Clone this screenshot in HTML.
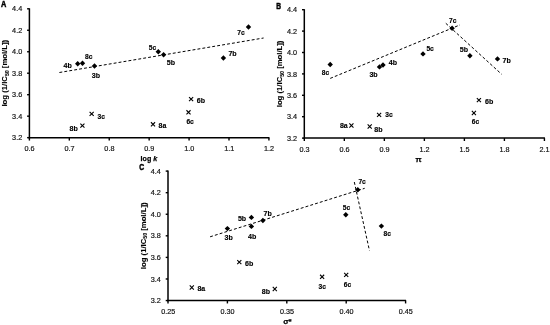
<!DOCTYPE html>
<html lang="en"><head><meta charset="utf-8"><title>Figure</title>
<style>
html,body{margin:0;padding:0;background:#fff;}
body{width:550px;height:325px;overflow:hidden;font-family:"Liberation Sans", sans-serif;}
svg{display:block;}
</style></head><body>
<svg width="550" height="325" viewBox="0 0 550 325">
<rect width="550" height="325" fill="#fff"/>
<g stroke="#000" stroke-width="1.5" fill="none" stroke-linecap="butt">
<path d="M29.40 8.30V138.40"/>
<path d="M28.65 137.65H269.42"/>
</g>
<g stroke="#000" stroke-width="1.4" fill="none">
<path d="M27.10 8.80H29.40"/>
<path d="M27.10 30.27H29.40"/>
<path d="M27.10 51.75H29.40"/>
<path d="M27.10 73.22H29.40"/>
<path d="M27.10 94.70H29.40"/>
<path d="M27.10 116.17H29.40"/>
<path d="M27.10 137.65H29.40"/>
<path d="M29.40 137.65V140.55"/>
<path d="M69.32 137.65V140.55"/>
<path d="M109.24 137.65V140.55"/>
<path d="M149.16 137.65V140.55"/>
<path d="M189.08 137.65V140.55"/>
<path d="M229.00 137.65V140.55"/>
<path d="M268.92 137.65V140.55"/>
</g>
<g font-family='"Liberation Sans", sans-serif' font-size="7.1" fill="#111" stroke="#111" stroke-width="0.18">
<text x="22.20" y="11.40" text-anchor="end" textLength="10.1" lengthAdjust="spacingAndGlyphs">4.4</text>
<text x="22.20" y="32.88" text-anchor="end" textLength="10.1" lengthAdjust="spacingAndGlyphs">4.2</text>
<text x="22.20" y="54.35" text-anchor="end" textLength="10.1" lengthAdjust="spacingAndGlyphs">4.0</text>
<text x="22.20" y="75.82" text-anchor="end" textLength="10.1" lengthAdjust="spacingAndGlyphs">3.8</text>
<text x="22.20" y="97.30" text-anchor="end" textLength="10.1" lengthAdjust="spacingAndGlyphs">3.6</text>
<text x="22.20" y="118.77" text-anchor="end" textLength="10.1" lengthAdjust="spacingAndGlyphs">3.4</text>
<text x="22.20" y="140.25" text-anchor="end" textLength="10.1" lengthAdjust="spacingAndGlyphs">3.2</text>
<text x="29.60" y="151.25" text-anchor="middle" textLength="10.1" lengthAdjust="spacingAndGlyphs">0.6</text>
<text x="69.52" y="151.25" text-anchor="middle" textLength="10.1" lengthAdjust="spacingAndGlyphs">0.7</text>
<text x="109.44" y="151.25" text-anchor="middle" textLength="10.1" lengthAdjust="spacingAndGlyphs">0.8</text>
<text x="149.36" y="151.25" text-anchor="middle" textLength="10.1" lengthAdjust="spacingAndGlyphs">0.9</text>
<text x="189.28" y="151.25" text-anchor="middle" textLength="10.1" lengthAdjust="spacingAndGlyphs">1.0</text>
<text x="229.20" y="151.25" text-anchor="middle" textLength="10.1" lengthAdjust="spacingAndGlyphs">1.1</text>
<text x="269.12" y="151.25" text-anchor="middle" textLength="10.1" lengthAdjust="spacingAndGlyphs">1.2</text>
</g>
<g font-family='"Liberation Sans", sans-serif' font-weight="bold" fill="#000">
<text x="1.10" y="7.30" font-size="8.8" stroke="#000" stroke-width="0.5" textLength="5.3" lengthAdjust="spacingAndGlyphs">A</text>
<text x="148.90" y="160.90" font-size="7.9" stroke="#000" stroke-width="0.25" text-anchor="middle" textLength="16.6" lengthAdjust="spacingAndGlyphs">log <tspan font-style="italic">k</tspan></text>
<text transform="translate(7.20 73.23) rotate(-90)" font-size="8.0" stroke="#000" stroke-width="0.1" text-anchor="middle" textLength="66.7" lengthAdjust="spacingAndGlyphs">log (1/IC<tspan font-size="5.4" dy="1.4">50</tspan><tspan dy="-1.4"> [mol/L])</tspan></text>
<text x="85.00" y="58.70" font-size="7.3" stroke="#000" stroke-width="0.15" textLength="7.40" lengthAdjust="spacingAndGlyphs">8c</text>
<text x="63.60" y="68.00" font-size="7.3" stroke="#000" stroke-width="0.15" textLength="8.30" lengthAdjust="spacingAndGlyphs">4b</text>
<text x="91.70" y="77.60" font-size="7.3" stroke="#000" stroke-width="0.15" textLength="8.30" lengthAdjust="spacingAndGlyphs">3b</text>
<text x="148.80" y="49.60" font-size="7.3" stroke="#000" stroke-width="0.15" textLength="7.40" lengthAdjust="spacingAndGlyphs">5c</text>
<text x="166.70" y="64.60" font-size="7.3" stroke="#000" stroke-width="0.15" textLength="8.30" lengthAdjust="spacingAndGlyphs">5b</text>
<text x="228.40" y="55.90" font-size="7.3" stroke="#000" stroke-width="0.15" textLength="8.30" lengthAdjust="spacingAndGlyphs">7b</text>
<text x="237.20" y="35.30" font-size="7.3" stroke="#000" stroke-width="0.15" textLength="7.40" lengthAdjust="spacingAndGlyphs">7c</text>
<text x="97.50" y="119.00" font-size="7.3" stroke="#000" stroke-width="0.15" textLength="7.40" lengthAdjust="spacingAndGlyphs">3c</text>
<text x="69.50" y="130.90" font-size="7.3" stroke="#000" stroke-width="0.15" textLength="8.30" lengthAdjust="spacingAndGlyphs">8b</text>
<text x="158.60" y="127.60" font-size="7.3" stroke="#000" stroke-width="0.15" textLength="7.80" lengthAdjust="spacingAndGlyphs">8a</text>
<text x="196.70" y="102.60" font-size="7.3" stroke="#000" stroke-width="0.15" textLength="8.30" lengthAdjust="spacingAndGlyphs">6b</text>
<text x="186.40" y="123.70" font-size="7.3" stroke="#000" stroke-width="0.15" textLength="7.40" lengthAdjust="spacingAndGlyphs">6c</text>
</g>
<g stroke="#000" stroke-width="1" fill="none" stroke-dasharray="2.9 2.1">
<path d="M59.40 72.50L263.60 38.00"/>
</g>
<g fill="#000">
<path d="M77.70 61.00L80.40 63.70L77.70 66.40L75.00 63.70Z"/>
<path d="M82.50 60.60L85.20 63.30L82.50 66.00L79.80 63.30Z"/>
<path d="M94.50 63.30L97.20 66.00L94.50 68.70L91.80 66.00Z"/>
<path d="M158.30 49.10L161.00 51.80L158.30 54.50L155.60 51.80Z"/>
<path d="M163.60 52.10L166.30 54.80L163.60 57.50L160.90 54.80Z"/>
<path d="M223.40 55.25L226.10 57.95L223.40 60.65L220.70 57.95Z"/>
<path d="M248.50 24.30L251.20 27.00L248.50 29.70L245.80 27.00Z"/>
</g>
<g stroke="#000" stroke-width="1.1" fill="none">
<path d="M89.60 111.85L93.70 115.95M89.60 115.95L93.70 111.85"/>
<path d="M80.35 123.55L84.45 127.65M80.35 127.65L84.45 123.55"/>
<path d="M150.95 122.25L155.05 126.35M150.95 126.35L155.05 122.25"/>
<path d="M189.05 97.05L193.15 101.15M189.05 101.15L193.15 97.05"/>
<path d="M186.45 110.25L190.55 114.35M186.45 114.35L190.55 110.25"/>
</g>
<g stroke="#000" stroke-width="1.5" fill="none" stroke-linecap="butt">
<path d="M304.30 9.20V138.85"/>
<path d="M303.55 138.10H544.92"/>
</g>
<g stroke="#000" stroke-width="1.4" fill="none">
<path d="M302.00 9.70H304.30"/>
<path d="M302.00 31.10H304.30"/>
<path d="M302.00 52.50H304.30"/>
<path d="M302.00 73.90H304.30"/>
<path d="M302.00 95.30H304.30"/>
<path d="M302.00 116.70H304.30"/>
<path d="M302.00 138.10H304.30"/>
<path d="M304.30 138.10V141.00"/>
<path d="M344.32 138.10V141.00"/>
<path d="M384.34 138.10V141.00"/>
<path d="M424.36 138.10V141.00"/>
<path d="M464.38 138.10V141.00"/>
<path d="M504.40 138.10V141.00"/>
<path d="M544.42 138.10V141.00"/>
</g>
<g font-family='"Liberation Sans", sans-serif' font-size="7.1" fill="#111" stroke="#111" stroke-width="0.18">
<text x="297.10" y="12.30" text-anchor="end" textLength="10.1" lengthAdjust="spacingAndGlyphs">4.4</text>
<text x="297.10" y="33.70" text-anchor="end" textLength="10.1" lengthAdjust="spacingAndGlyphs">4.2</text>
<text x="297.10" y="55.10" text-anchor="end" textLength="10.1" lengthAdjust="spacingAndGlyphs">4.0</text>
<text x="297.10" y="76.50" text-anchor="end" textLength="10.1" lengthAdjust="spacingAndGlyphs">3.8</text>
<text x="297.10" y="97.90" text-anchor="end" textLength="10.1" lengthAdjust="spacingAndGlyphs">3.6</text>
<text x="297.10" y="119.30" text-anchor="end" textLength="10.1" lengthAdjust="spacingAndGlyphs">3.4</text>
<text x="297.10" y="140.70" text-anchor="end" textLength="10.1" lengthAdjust="spacingAndGlyphs">3.2</text>
<text x="304.50" y="151.70" text-anchor="middle" textLength="10.1" lengthAdjust="spacingAndGlyphs">0.3</text>
<text x="344.52" y="151.70" text-anchor="middle" textLength="10.1" lengthAdjust="spacingAndGlyphs">0.6</text>
<text x="384.54" y="151.70" text-anchor="middle" textLength="10.1" lengthAdjust="spacingAndGlyphs">0.9</text>
<text x="424.56" y="151.70" text-anchor="middle" textLength="10.1" lengthAdjust="spacingAndGlyphs">1.2</text>
<text x="464.58" y="151.70" text-anchor="middle" textLength="10.1" lengthAdjust="spacingAndGlyphs">1.5</text>
<text x="504.60" y="151.70" text-anchor="middle" textLength="10.1" lengthAdjust="spacingAndGlyphs">1.8</text>
<text x="544.62" y="151.70" text-anchor="middle" textLength="10.1" lengthAdjust="spacingAndGlyphs">2.1</text>
</g>
<g font-family='"Liberation Sans", sans-serif' font-weight="bold" fill="#000">
<text x="276.30" y="8.80" font-size="8.8" stroke="#000" stroke-width="0.5" textLength="4.8" lengthAdjust="spacingAndGlyphs">B</text>
<text x="418.40" y="161.90" font-size="7.9" stroke="#000" stroke-width="0.25" text-anchor="middle" >π</text>
<text transform="translate(282.20 73.90) rotate(-90)" font-size="8.0" stroke="#000" stroke-width="0.1" text-anchor="middle" textLength="66.7" lengthAdjust="spacingAndGlyphs">log (1/IC<tspan font-size="5.4" dy="1.4">50</tspan><tspan dy="-1.4"> [mol/L])</tspan></text>
<text x="321.70" y="74.60" font-size="7.3" stroke="#000" stroke-width="0.15" textLength="7.40" lengthAdjust="spacingAndGlyphs">8c</text>
<text x="369.40" y="76.80" font-size="7.3" stroke="#000" stroke-width="0.15" textLength="8.30" lengthAdjust="spacingAndGlyphs">3b</text>
<text x="388.70" y="65.30" font-size="7.3" stroke="#000" stroke-width="0.15" textLength="8.30" lengthAdjust="spacingAndGlyphs">4b</text>
<text x="426.40" y="51.20" font-size="7.3" stroke="#000" stroke-width="0.15" textLength="7.40" lengthAdjust="spacingAndGlyphs">5c</text>
<text x="449.00" y="22.70" font-size="7.3" stroke="#000" stroke-width="0.15" textLength="7.40" lengthAdjust="spacingAndGlyphs">7c</text>
<text x="459.80" y="52.00" font-size="7.3" stroke="#000" stroke-width="0.15" textLength="8.30" lengthAdjust="spacingAndGlyphs">5b</text>
<text x="502.60" y="63.00" font-size="7.3" stroke="#000" stroke-width="0.15" textLength="8.30" lengthAdjust="spacingAndGlyphs">7b</text>
<text x="385.20" y="117.30" font-size="7.3" stroke="#000" stroke-width="0.15" textLength="7.40" lengthAdjust="spacingAndGlyphs">3c</text>
<text x="339.90" y="127.60" font-size="7.3" stroke="#000" stroke-width="0.15" textLength="7.80" lengthAdjust="spacingAndGlyphs">8a</text>
<text x="374.20" y="131.50" font-size="7.3" stroke="#000" stroke-width="0.15" textLength="8.30" lengthAdjust="spacingAndGlyphs">8b</text>
<text x="485.00" y="103.50" font-size="7.3" stroke="#000" stroke-width="0.15" textLength="8.30" lengthAdjust="spacingAndGlyphs">6b</text>
<text x="471.70" y="124.20" font-size="7.3" stroke="#000" stroke-width="0.15" textLength="7.40" lengthAdjust="spacingAndGlyphs">6c</text>
</g>
<g stroke="#000" stroke-width="1" fill="none" stroke-dasharray="2.9 2.1">
<path d="M330.20 78.40L460.00 24.90"/>
<path d="M445.80 23.30L501.70 74.30"/>
</g>
<g fill="#000">
<path d="M330.20 61.80L332.90 64.50L330.20 67.20L327.50 64.50Z"/>
<path d="M379.50 64.20L382.20 66.90L379.50 69.60L376.80 66.90Z"/>
<path d="M383.00 62.30L385.70 65.00L383.00 67.70L380.30 65.00Z"/>
<path d="M423.00 51.20L425.70 53.90L423.00 56.60L420.30 53.90Z"/>
<path d="M452.10 25.60L454.80 28.30L452.10 31.00L449.40 28.30Z"/>
<path d="M469.90 53.10L472.60 55.80L469.90 58.50L467.20 55.80Z"/>
<path d="M497.50 56.20L500.20 58.90L497.50 61.60L494.80 58.90Z"/>
</g>
<g stroke="#000" stroke-width="1.1" fill="none">
<path d="M377.05 112.85L381.15 116.95M377.05 116.95L381.15 112.85"/>
<path d="M349.35 123.45L353.45 127.55M349.35 127.55L353.45 123.45"/>
<path d="M367.65 124.45L371.75 128.55M367.65 128.55L371.75 124.45"/>
<path d="M476.85 98.05L480.95 102.15M476.85 102.15L480.95 98.05"/>
<path d="M471.85 110.95L475.95 115.05M471.85 115.05L475.95 110.95"/>
</g>
<g stroke="#000" stroke-width="1.5" fill="none" stroke-linecap="butt">
<path d="M168.00 170.60V301.30"/>
<path d="M167.25 300.55H406.10"/>
</g>
<g stroke="#000" stroke-width="1.4" fill="none">
<path d="M165.70 171.10H168.00"/>
<path d="M165.70 192.68H168.00"/>
<path d="M165.70 214.25H168.00"/>
<path d="M165.70 235.82H168.00"/>
<path d="M165.70 257.40H168.00"/>
<path d="M165.70 278.98H168.00"/>
<path d="M165.70 300.55H168.00"/>
<path d="M168.00 300.55V303.45"/>
<path d="M227.40 300.55V303.45"/>
<path d="M286.80 300.55V303.45"/>
<path d="M346.20 300.55V303.45"/>
<path d="M405.60 300.55V303.45"/>
</g>
<g font-family='"Liberation Sans", sans-serif' font-size="7.1" fill="#111" stroke="#111" stroke-width="0.18">
<text x="160.80" y="173.70" text-anchor="end" textLength="10.1" lengthAdjust="spacingAndGlyphs">4.4</text>
<text x="160.80" y="195.28" text-anchor="end" textLength="10.1" lengthAdjust="spacingAndGlyphs">4.2</text>
<text x="160.80" y="216.85" text-anchor="end" textLength="10.1" lengthAdjust="spacingAndGlyphs">4.0</text>
<text x="160.80" y="238.42" text-anchor="end" textLength="10.1" lengthAdjust="spacingAndGlyphs">3.8</text>
<text x="160.80" y="260.00" text-anchor="end" textLength="10.1" lengthAdjust="spacingAndGlyphs">3.6</text>
<text x="160.80" y="281.58" text-anchor="end" textLength="10.1" lengthAdjust="spacingAndGlyphs">3.4</text>
<text x="160.80" y="303.15" text-anchor="end" textLength="10.1" lengthAdjust="spacingAndGlyphs">3.2</text>
<text x="168.20" y="314.15" text-anchor="middle" textLength="14.0" lengthAdjust="spacingAndGlyphs">0.25</text>
<text x="227.60" y="314.15" text-anchor="middle" textLength="14.0" lengthAdjust="spacingAndGlyphs">0.30</text>
<text x="287.00" y="314.15" text-anchor="middle" textLength="14.0" lengthAdjust="spacingAndGlyphs">0.35</text>
<text x="346.40" y="314.15" text-anchor="middle" textLength="14.0" lengthAdjust="spacingAndGlyphs">0.40</text>
<text x="405.80" y="314.15" text-anchor="middle" textLength="14.0" lengthAdjust="spacingAndGlyphs">0.45</text>
</g>
<g font-family='"Liberation Sans", sans-serif' font-weight="bold" fill="#000">
<text x="139.30" y="170.30" font-size="8.8" stroke="#000" stroke-width="0.5" textLength="4.9" lengthAdjust="spacingAndGlyphs">C</text>
<text x="287.40" y="324.00" font-size="7.9" stroke="#000" stroke-width="0.25" text-anchor="middle" >σ*</text>
<text transform="translate(145.70 235.82) rotate(-90)" font-size="8.0" stroke="#000" stroke-width="0.1" text-anchor="middle" textLength="66.7" lengthAdjust="spacingAndGlyphs">log (1/IC<tspan font-size="5.4" dy="1.4">50</tspan><tspan dy="-1.4"> [mol/L])</tspan></text>
<text x="237.90" y="221.10" font-size="7.3" stroke="#000" stroke-width="0.15" textLength="8.30" lengthAdjust="spacingAndGlyphs">5b</text>
<text x="224.60" y="240.30" font-size="7.3" stroke="#000" stroke-width="0.15" textLength="8.30" lengthAdjust="spacingAndGlyphs">3b</text>
<text x="248.10" y="239.30" font-size="7.3" stroke="#000" stroke-width="0.15" textLength="8.30" lengthAdjust="spacingAndGlyphs">4b</text>
<text x="263.60" y="215.70" font-size="7.3" stroke="#000" stroke-width="0.15" textLength="8.30" lengthAdjust="spacingAndGlyphs">7b</text>
<text x="358.40" y="183.50" font-size="7.3" stroke="#000" stroke-width="0.15" textLength="7.40" lengthAdjust="spacingAndGlyphs">7c</text>
<text x="342.70" y="210.40" font-size="7.3" stroke="#000" stroke-width="0.15" textLength="7.40" lengthAdjust="spacingAndGlyphs">5c</text>
<text x="383.60" y="235.50" font-size="7.3" stroke="#000" stroke-width="0.15" textLength="7.40" lengthAdjust="spacingAndGlyphs">8c</text>
<text x="318.50" y="288.60" font-size="7.3" stroke="#000" stroke-width="0.15" textLength="7.40" lengthAdjust="spacingAndGlyphs">3c</text>
<text x="343.80" y="286.70" font-size="7.3" stroke="#000" stroke-width="0.15" textLength="7.40" lengthAdjust="spacingAndGlyphs">6c</text>
<text x="197.40" y="291.00" font-size="7.3" stroke="#000" stroke-width="0.15" textLength="7.80" lengthAdjust="spacingAndGlyphs">8a</text>
<text x="245.00" y="265.80" font-size="7.3" stroke="#000" stroke-width="0.15" textLength="8.30" lengthAdjust="spacingAndGlyphs">6b</text>
<text x="261.70" y="294.10" font-size="7.3" stroke="#000" stroke-width="0.15" textLength="8.30" lengthAdjust="spacingAndGlyphs">8b</text>
</g>
<g stroke="#000" stroke-width="1" fill="none" stroke-dasharray="2.9 2.1">
<path d="M210.10 236.80L364.70 188.30"/>
<path d="M354.30 182.00L369.50 250.70"/>
</g>
<g fill="#000">
<path d="M227.40 225.90L230.10 228.60L227.40 231.30L224.70 228.60Z"/>
<path d="M251.40 214.70L254.10 217.40L251.40 220.10L248.70 217.40Z"/>
<path d="M251.40 223.70L254.10 226.40L251.40 229.10L248.70 226.40Z"/>
<path d="M262.90 217.80L265.60 220.50L262.90 223.20L260.20 220.50Z"/>
<path d="M357.80 187.10L360.50 189.80L357.80 192.50L355.10 189.80Z"/>
<path d="M345.80 212.10L348.50 214.80L345.80 217.50L343.10 214.80Z"/>
<path d="M381.40 223.40L384.10 226.10L381.40 228.80L378.70 226.10Z"/>
</g>
<g stroke="#000" stroke-width="1.1" fill="none">
<path d="M189.75 285.45L193.85 289.55M189.75 289.55L193.85 285.45"/>
<path d="M237.25 260.05L241.35 264.15M237.25 264.15L241.35 260.05"/>
<path d="M272.75 286.95L276.85 291.05M272.75 291.05L276.85 286.95"/>
<path d="M320.05 274.75L324.15 278.85M320.05 278.85L324.15 274.75"/>
<path d="M344.15 272.85L348.25 276.95M344.15 276.95L348.25 272.85"/>
</g>
</svg>
</body></html>
